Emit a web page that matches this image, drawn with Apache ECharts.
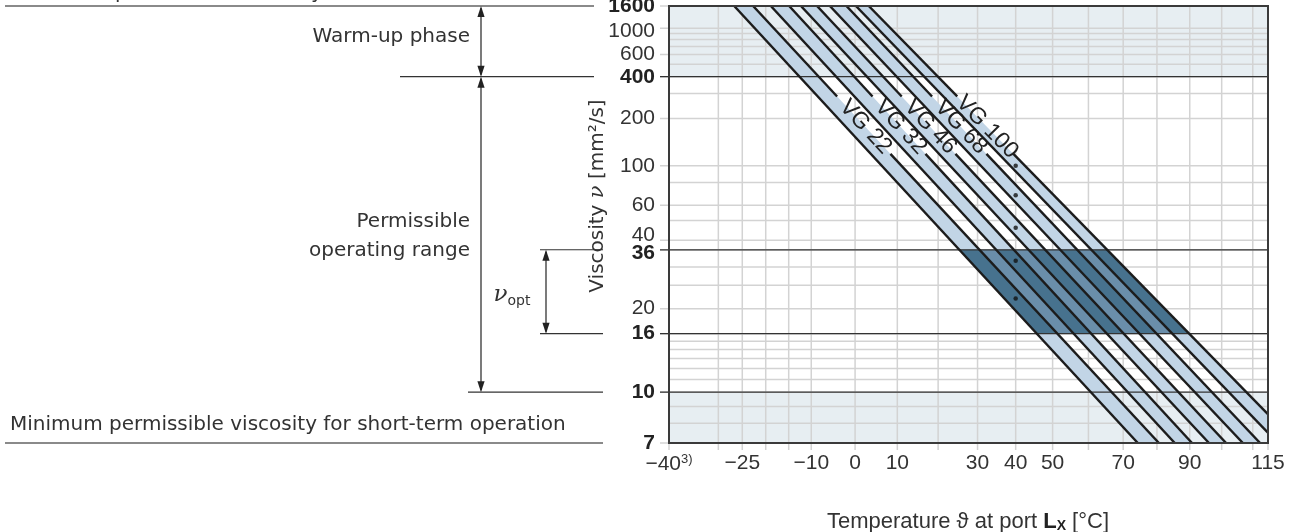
<!DOCTYPE html>
<html><head><meta charset="utf-8">
<script src="https://cdn.jsdelivr.net/npm/echarts@6/dist/echarts.min.js"></script>
<style>html,body{margin:0;padding:0;background:#fff}#c{width:1298px;height:532px}</style>
</head><body><div id="c"></div>
<script>
// ---------- data ----------
const grades = ['VG 22', 'VG 32', 'VG 46', 'VG 68', 'VG 100'];
const gradeViscosity = [22, 32, 46, 68, 100];            // mm²/s at 40 °C (dots)
const lowerEdgeT1600 = [-26.7, -18.9, -12.3, -5.8, 0.2];  // °C where lower band edge meets 1600 mm²/s
const lowerEdgeT7 = [74.3, 85.4, 96.0, 106.8, 118.3];     // °C where lower band edge meets 7 mm²/s
const upperEdgeT1600 = [-22.7, -14.9, -8.7, -2.0, 3.2];
const upperEdgeT7 = [80.6, 90.7, 101.4, 112.4, 124.4];
const dotTemperature = 40;
const yGridValues = [7, 8, 9, 10, 11, 12, 13, 14, 15, 16, 20, 25, 30, 36, 40, 50, 60, 80, 100, 200, 300, 400, 500, 600, 700, 800, 900, 1000, 1600];
const yTickLabels = [7, 10, 16, 20, 36, 40, 60, 100, 200, 400, 600, 1000, 1600];
const yBoldLabels = [7, 10, 16, 36, 400, 1600];
const xGridValues = [-40, -30, -25, -20, -15, -10, 0, 10, 20, 30, 40, 50, 60, 70, 80, 90, 100, 110, 115];
const xTickLabels = [-40, -25, -10, 0, 10, 30, 40, 50, 70, 90, 115];
const referenceLines = [10, 16, 36, 400];
const shadedRanges = [[400, 1600], [7, 10]];
const optimalRange = [16, 36];
const labelViscosity = 175;
const labelGap = [285, 118];

// ---------- ASTM D341 style scales ----------
const tx = T => Math.log10(T + 273.15);
const ty = v => Math.log10(Math.log10(v + 0.7));
const invX = u => Math.round(Math.pow(10, u) - 273.15);
const invY = w => Math.round(Math.pow(10, Math.pow(10, w)) - 0.7);
const X0 = tx(-40), X1 = tx(115), Y0 = ty(7), Y1 = ty(1600);

const axisFont = "'Liberation Sans', Arial, sans-serif";
const noteFont = "'DejaVu Sans', sans-serif";
const ink = '#333';
const lightBand = '#c2d5e6', darkBand = '#47728e', midBand = '#6a8eaa', shade = '#e7eef2', gridC = '#d3d3d3';

const chart = echarts.init(document.getElementById('c'), null, {renderer: 'canvas'});

function corners(api, i) {
  return {
    A: api.coord([tx(lowerEdgeT1600[i]), Y1]),
    B: api.coord([tx(lowerEdgeT7[i]), Y0]),
    C: api.coord([tx(upperEdgeT7[i]), Y0]),
    D: api.coord([tx(upperEdgeT1600[i]), Y1])
  };
}
function atY(P, Q, y) { const t = (y - P[1]) / (Q[1] - P[1]); return [P[0] + t * (Q[0] - P[0]), y]; }
function csRect(cs) { return {x: cs.x, y: cs.y, width: cs.width, height: cs.height}; }
const idx = grades.map((g, i) => ({value: [i, i]}));

const yNudge = {40: 'Up', 36: 'Down', 1000: 'Down'};

const option = {
  animation: false,
  grid: {left: 669, right: 30, top: 6, bottom: 89, containLabel: false, outerBoundsMode: 'none'},
  xAxis: {
    type: 'value', min: X0, max: X1, splitLine: {show: false}, axisLine: {show: false}, axisTick: {show: false},
    axisLabel: {
      customValues: xTickLabels.map(tx), margin: 10,
      formatter: u => { const T = invX(u); const s = (T < 0 ? '\u2212' : '') + Math.abs(T); return T === -40 ? `{n|${s}}{sup|3)}` : `{n|${s}}`; },
      rich: {
        n: {fontSize: 21, fontFamily: axisFont, color: ink},
        sup: {fontSize: 13, fontFamily: axisFont, color: ink, padding: [0, 0, 10, 0]}
      }
    }
  },
  yAxis: {
    type: 'value', min: Y0, max: Y1, splitLine: {show: false}, axisLine: {show: false}, axisTick: {show: false},
    axisLabel: {
      customValues: yTickLabels.map(ty), margin: 14,
      formatter: w => { const v = invY(w); const s = (yBoldLabels.includes(v) ? 'b' : 'n') + (yNudge[v] || ''); return `{${s}|${v}}`; },
      rich: {
        n: {fontSize: 21, fontFamily: axisFont, color: ink},
        b: {fontSize: 21, fontFamily: axisFont, color: '#222', fontWeight: 'bold'},
        nUp: {fontSize: 21, fontFamily: axisFont, color: ink, padding: [0, 0, 10, 0]},
        nDown: {fontSize: 21, fontFamily: axisFont, color: ink, padding: [6, 0, 0, 0]},
        bDown: {fontSize: 21, fontFamily: axisFont, color: '#222', fontWeight: 'bold', padding: [7, 0, 0, 0]}
      }
    }
  },
  series: [
    { // shaded ranges
      type: 'custom', silent: true, z: 1, data: shadedRanges.map(r => ({value: r})),
      renderItem(params, api) {
        const p1 = api.coord([X0, ty(api.value(1))]), p2 = api.coord([X1, ty(api.value(0))]);
        return {type: 'rect', shape: {x: p1[0], y: p1[1], width: p2[0] - p1[0], height: p2[1] - p1[1]}, style: {fill: shade}};
      }
    },
    { // horizontal grid
      type: 'custom', silent: true, z: 2, data: yGridValues.map(v => ({value: [v, v]})),
      renderItem(params, api) {
        const cs = params.coordSys, v = api.value(0);
        const y = api.coord([X0, ty(v)])[1];
        const ext = yTickLabels.includes(v) ? 9 : 0;
        return {type: 'line', shape: {x1: cs.x - ext, y1: y, x2: cs.x + cs.width, y2: y}, style: {stroke: gridC, lineWidth: 1.5}};
      }
    },
    { // vertical grid
      type: 'custom', silent: true, z: 2, data: xGridValues.map(v => ({value: [v, v]})),
      renderItem(params, api) {
        const cs = params.coordSys;
        const x = api.coord([tx(api.value(0)), Y0])[0];
        return {type: 'line', shape: {x1: x, y1: cs.y, x2: x, y2: cs.y + cs.height + 7}, style: {stroke: gridC, lineWidth: 1.5}};
      }
    },
    { // light bands
      type: 'custom', silent: true, z: 3, data: idx,
      renderItem(params, api) {
        const k = corners(api, api.value(0));
        return {type: 'group', clipPath: {type: 'rect', shape: csRect(params.coordSys)},
          children: [{type: 'polygon', shape: {points: [k.A, k.B, k.C, k.D]}, style: {fill: lightBand}}]};
      }
    },
    { // optimal viscosity region
      type: 'custom', silent: true, z: 4, data: [{value: optimalRange}],
      renderItem(params, api) {
        const cs = params.coordSys;
        const yTop = api.coord([X0, ty(api.value(1))])[1], yBot = api.coord([X0, ty(api.value(0))])[1];
        const first = corners(api, 0), last = corners(api, grades.length - 1);
        const children = [{type: 'polygon', shape: {points: [first.A, first.B, last.C, last.D]}, style: {fill: midBand}}];
        grades.forEach((g, i) => { const k = corners(api, i); children.push({type: 'polygon', shape: {points: [k.A, k.B, k.C, k.D]}, style: {fill: darkBand}}); });
        return {type: 'group', clipPath: {type: 'rect', shape: {x: cs.x, y: yTop, width: cs.width, height: yBot - yTop}}, children};
      }
    },
    { // reference lines
      type: 'custom', silent: true, z: 5, data: referenceLines.map(v => ({value: [v, v]})),
      renderItem(params, api) {
        const cs = params.coordSys; const y = api.coord([X0, ty(api.value(0))])[1];
        return {type: 'line', shape: {x1: cs.x - 9, y1: y, x2: cs.x + cs.width, y2: y}, style: {stroke: ink, lineWidth: 1.3}};
      }
    },
    { // band edge lines + labels
      type: 'custom', silent: true, z: 6, data: idx,
      renderItem(params, api) {
        const i = api.value(0); const k = corners(api, i);
        const yL = api.coord([X0, ty(labelViscosity)])[1];
        const yg1 = api.coord([X0, ty(labelGap[0])])[1], yg2 = api.coord([X0, ty(labelGap[1])])[1];
        const g1 = atY(k.D, k.C, yg1), g2 = atY(k.D, k.C, yg2), pL = atY(k.D, k.C, yL);
        const ls = {stroke: '#1c1c1c', lineWidth: 2.4};
        const ang = Math.atan2(k.C[1] - k.D[1], k.C[0] - k.D[0]);
        return {type: 'group', children: [
          {type: 'group', clipPath: {type: 'rect', shape: csRect(params.coordSys)}, children: [
            {type: 'line', shape: {x1: k.A[0], y1: k.A[1], x2: k.B[0], y2: k.B[1]}, style: ls},
            {type: 'line', shape: {x1: k.D[0], y1: k.D[1], x2: g1[0], y2: g1[1]}, style: ls},
            {type: 'line', shape: {x1: g2[0], y1: g2[1], x2: k.C[0], y2: k.C[1]}, style: ls}
          ]},
          {type: 'text', x: pL[0], y: pL[1], rotation: -ang,
            style: {text: grades[i], fontSize: 23, fontFamily: axisFont, fill: '#222', align: 'center', verticalAlign: 'middle'}}
        ]};
      }
    },
    { // frame
      type: 'custom', silent: true, z: 8, data: [{value: [0, 0]}],
      renderItem(params) {
        const cs = params.coordSys;
        return {type: 'rect', shape: csRect(cs), style: {stroke: '#3a3a3a', lineWidth: 2, fill: null}};
      }
    },
    { // viscosity grade dots at 40 °C
      type: 'scatter', silent: true, z: 9, symbolSize: 4.5, itemStyle: {color: '#111'},
      data: gradeViscosity.map(v => [tx(dotTemperature), ty(v)])
    }
  ]
};
chart.setOption(option);

// ---------- annotations ----------
const yp = v => chart.convertToPixel({yAxisIndex: 0}, ty(v));
function dArrow(x, y1, y2) {
  const h = 11, w = 3.6;
  return [
    {type: 'line', shape: {x1: x, y1: y1 + 2, x2: x, y2: y2 - 2}, style: {stroke: '#222', lineWidth: 1.2}},
    {type: 'polygon', shape: {points: [[x, y1], [x - w, y1 + h], [x + w, y1 + h]]}, style: {fill: '#222'}},
    {type: 'polygon', shape: {points: [[x, y2], [x - w, y2 - h], [x + w, y2 - h]]}, style: {fill: '#222'}}
  ];
}
const hl = (x1, x2, y, stroke, lw) => ({type: 'line', shape: {x1, y1: y, x2, y2: y}, style: {stroke, lineWidth: lw}});
const txt = (text, x, y, align, size) => ({type: 'text', x, y, style: {text, fontSize: size || 20, fontFamily: noteFont, fill: ink, align: align || 'left', verticalAlign: 'middle'}});
const y1600 = yp(1600), y400 = yp(400), y36 = yp(36), y16 = yp(16), y10 = yp(10), y7 = yp(7);
const g = [
  txt('Maximum permissible viscosity for cold start', 10, y1600 - 13.5),
  hl(5, 594, y1600, '#8a8a8a', 2),
  txt('Warm-up phase', 470, 37, 'right'),
  ...dArrow(481, y1600, y400),
  hl(400, 594, y400, ink, 1.3),
  txt('Permissible', 470, 222, 'right'),
  txt('operating range', 470, 251, 'right'),
  ...dArrow(481, y400, y10),
  hl(468, 603, y10, ink, 1.3),
  hl(540, 603, y36, ink, 1.1),
  hl(540, 603, y16, ink, 1.1),
  ...dArrow(546, y36, y16),
  {type: 'text', x: 512, y: 295, style: {text: '{nu|\u03bd}{sub|opt}', align: 'center', verticalAlign: 'middle',
    rich: {nu: {fontSize: 23, fontFamily: "'DejaVu Serif', serif", fontStyle: 'italic', fill: ink, verticalAlign: 'bottom'},
           sub: {fontSize: 14, fontFamily: noteFont, fill: ink, verticalAlign: 'bottom', padding: [0, 0, -2, 0]}}}},
  txt('Minimum permissible viscosity for short-term operation', 10, 425),
  hl(5, 603, y7, '#8a8a8a', 2),
  {type: 'text', x: 598, y: 196, rotation: Math.PI / 2, style: {text: '{t|Viscosity }{nu|\u03bd}{t| [mm\u00b2/s]}', align: 'center', verticalAlign: 'middle',
    rich: {t: {fontSize: 20, fontFamily: noteFont, fill: ink}, nu: {fontSize: 21, fontFamily: "'DejaVu Serif', serif", fontStyle: 'italic', fill: ink}}}},
  {type: 'text', x: 968, y: 522, style: {text: '{t|Temperature \u03d1 at port }{b|L}{bs|X}{t| [\u00b0C]}', align: 'center', verticalAlign: 'middle',
    rich: {t: {fontSize: 22, fontFamily: axisFont, fill: ink}, b: {fontSize: 22, fontFamily: axisFont, fontWeight: 'bold', fill: '#222'},
           bs: {fontSize: 14, fontFamily: axisFont, fontWeight: 'bold', fill: '#222', padding: [8, 0, 0, 0]}}}}
];
chart.setOption({graphic: g.map(e => Object.assign({silent: true}, e))});
</script></body></html>
